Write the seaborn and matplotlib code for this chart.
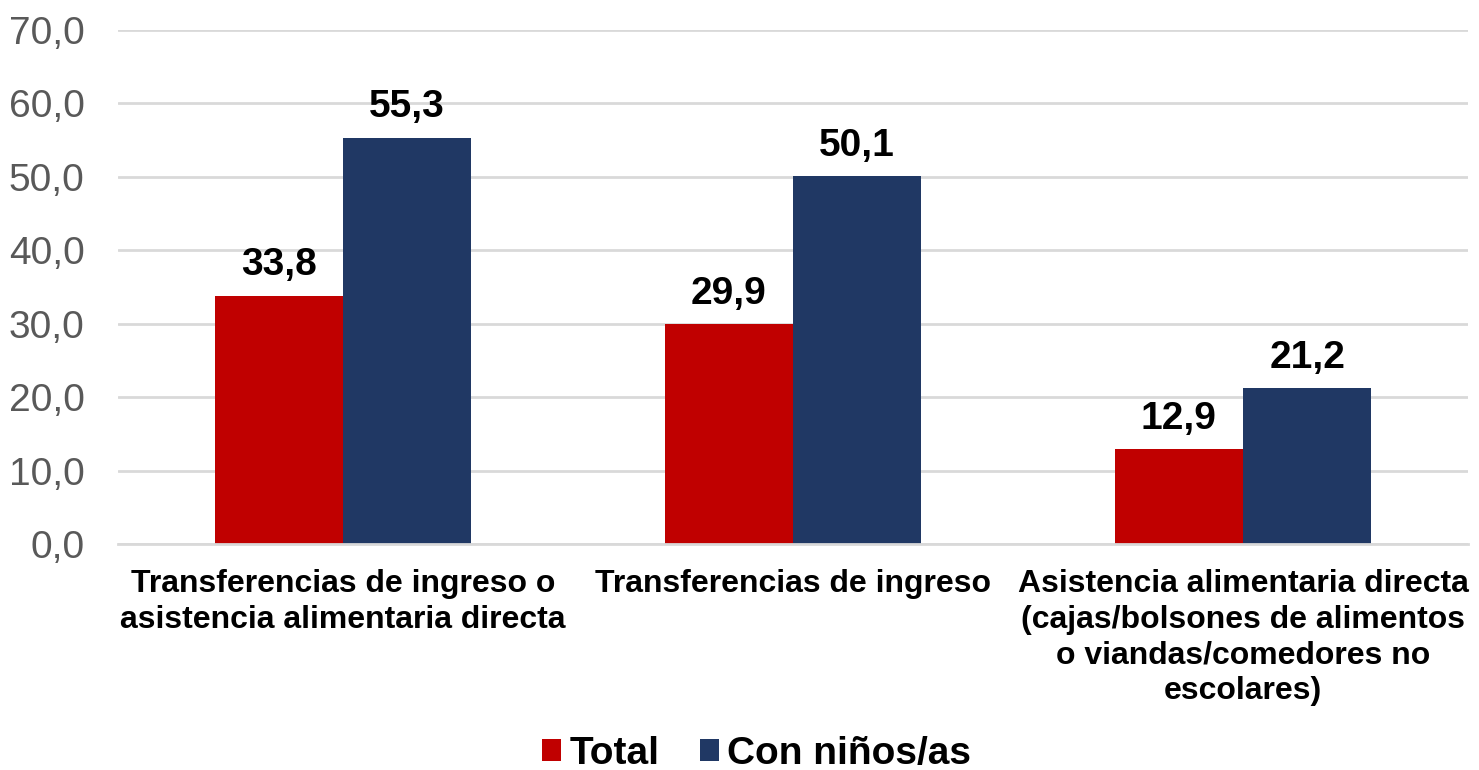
import matplotlib
matplotlib.use("Agg")
from matplotlib import pyplot as plt
import pandas as pd
import seaborn as sns

# Data
categories = [
    "Transferencias de ingreso o\nasistencia alimentaria directa",
    "Transferencias de ingreso",
    "Asistencia alimentaria directa\n(cajas/bolsones de alimentos\no viandas/comedores no\nescolares)",
]
series_names = ["Total", "Con niños/as"]
total_values = [33.8, 29.9, 12.9]
ninos_values = [55.3, 50.1, 21.2]
y_ticks = [0, 10, 20, 30, 40, 50, 60, 70]
colors = ["#C00000", "#203864"]


def main():
    sns.set_style("white")
    plt.rcParams["font.family"] = ["Liberation Sans", "DejaVu Sans"]

    df = pd.DataFrame({
        "categoria": categories * 2,
        "serie": [series_names[0]] * 3 + [series_names[1]] * 3,
        "valor": total_values + ninos_values,
    })

    fig = plt.figure(figsize=(14.79, 7.70), dpi=100)
    ax = fig.add_axes([0.0798, 0.2935, 0.9128, 0.6675])

    sns.barplot(data=df, x="categoria", y="valor", hue="serie",
                palette=colors, width=0.57, gap=0, saturation=1,
                linewidth=0, ax=ax, legend=True)

    for container in ax.containers:
        ax.bar_label(container, labels=[f"{v:.1f}".replace(".", ",") for v in container.datavalues],
                     padding=9, fontsize=28, fontweight="bold", color="black")

    ax.set_ylim(0, 70)
    ax.set_xlim(-0.5, 2.5)
    ax.set_yticks(y_ticks)
    ax.set_yticklabels([f"{t:.1f}".replace(".", ",") for t in y_ticks], fontsize=28, color="#595959")
    ax.set_xticks(range(len(categories)))
    ax.set_xticklabels(categories, fontsize=23, fontweight="bold", color="black", linespacing=1.25)
    ax.tick_params(axis="both", length=0)
    ax.tick_params(axis="x", pad=18)
    ax.tick_params(axis="y", pad=24)
    ax.set_xlabel("")
    ax.set_ylabel("")

    ax.yaxis.grid(True, color="#D9D9D9", linewidth=2)
    ax.set_axisbelow(True)
    for side in ["top", "right", "left"]:
        ax.spines[side].set_visible(False)
    ax.spines["bottom"].set_color("#D9D9D9")
    ax.spines["bottom"].set_linewidth(2)

    ax.legend(loc="center", bbox_to_anchor=(0.473, -0.408), ncol=2, frameon=False,
              prop={"size": 28, "weight": "bold"}, labelcolor="black",
              handlelength=0.5, handleheight=0.5,
              handletextpad=0.2, columnspacing=1.05, borderpad=0.2)

    fig.savefig("out.png", dpi=100)


if __name__ == "__main__":
    main()
